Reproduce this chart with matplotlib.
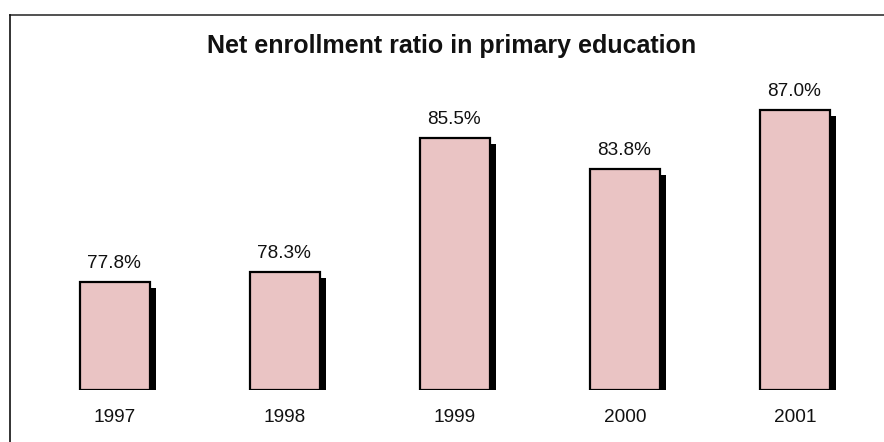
import matplotlib
matplotlib.use("Agg")
import matplotlib.pyplot as plt
from matplotlib.lines import Line2D

years = ["1997", "1998", "1999", "2000", "2001"]
ratios = [77.8, 78.3, 85.5, 83.8, 87.0]
labels = ["77.8%", "78.3%", "85.5%", "83.8%", "87.0%"]
title = "Net enrollment ratio in primary education"

plt.rcParams['font.family'] = ['Liberation Sans', 'DejaVu Sans']

W, H = 884, 442
fig = plt.figure(figsize=(W / 100, H / 100), dpi=100)
fig.patch.set_facecolor("white")

base = 72.0
ymax = 90.0
ax_left, ax_right = 30, 880
ax_bottom_px, ax_top_px = 390, 53.4
ax = fig.add_axes([ax_left / W, (H - ax_bottom_px) / H,
                   (ax_right - ax_left) / W, (ax_bottom_px - ax_top_px) / H])
ax.set_xlim(-0.5, len(years) - 0.5)
ax.set_ylim(base, ymax)
ax.axis("off")

x = list(range(len(years)))
width = 0.41
px_per_unit = (ax_bottom_px - ax_top_px) / (ymax - base)
dx = 6 / 170.0
dy = 6 / px_per_unit

# shadows
ax.bar([xi + dx for xi in x], [v - base - dy for v in ratios], width=width,
       bottom=base, color="black", edgecolor="none", zorder=1)
# bars
ax.bar(x, [v - base for v in ratios], width=width, bottom=base,
       color="#EAC4C4", edgecolor="black", linewidth=1.6, zorder=2)

for xi, v, lab in zip(x, ratios, labels):
    ax.annotate(lab, (xi, v), xytext=(-1, 10), textcoords="offset points",
                ha="center", va="baseline", fontsize=13.7, color="#111111")
    ax.annotate(years[xi], (xi, base), xytext=(0, -23), textcoords="offset points",
                ha="center", va="baseline", fontsize=13.7, color="#111111",
                annotation_clip=False)

fig.text(452 / W, 1 - 53 / H, title, ha="center", va="baseline",
         fontsize=18, fontweight="bold", color="#111111")

# frame lines (top and left)
fig.add_artist(Line2D([10 / W, 1.0], [1 - 14.5 / H, 1 - 14.5 / H],
                      transform=fig.transFigure, color="#333333", linewidth=1.2))
fig.add_artist(Line2D([10 / W, 10 / W], [0, 1 - 14.5 / H],
                      transform=fig.transFigure, color="#111111", linewidth=1.2))

fig.savefig("out.png", dpi=100)
